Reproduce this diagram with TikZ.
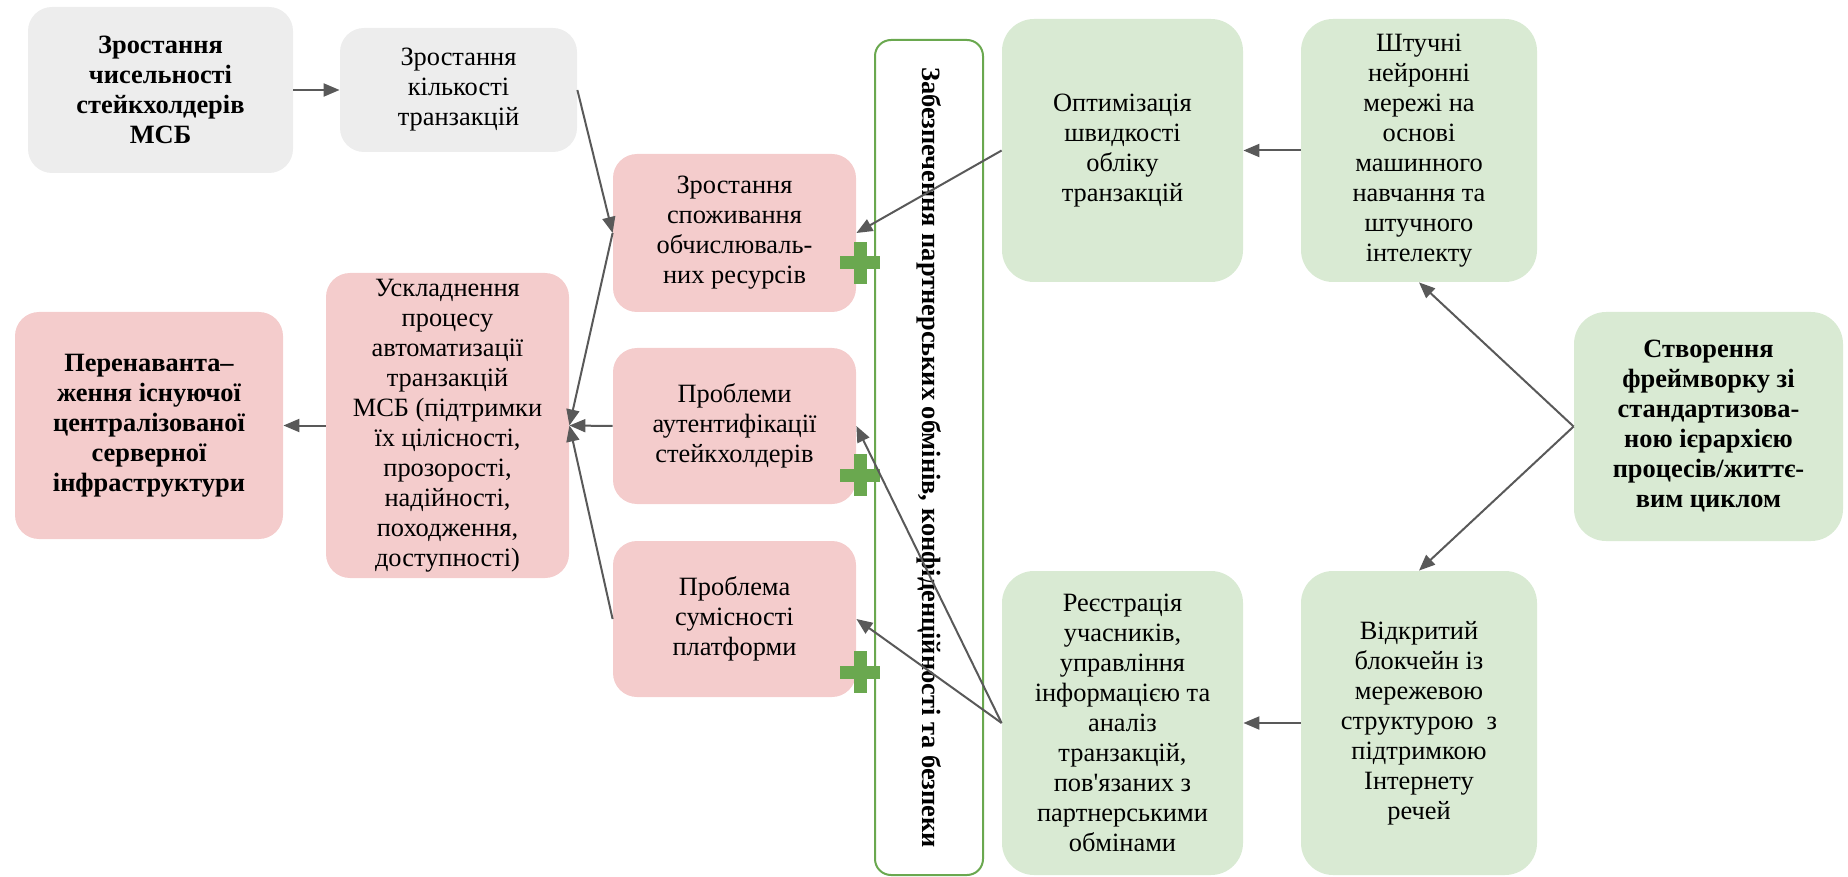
\documentclass[tikz,border=0pt]{standalone}
\usepackage{fontspec}
\setmainfont{Liberation Serif}
\usepackage{tikz}
\usetikzlibrary{arrows.meta}
\usetikzlibrary{positioning}

\definecolor{boxgray}{RGB}{237,237,237}
\definecolor{boxpink}{RGB}{244,204,204}
\definecolor{boxgreen}{RGB}{217,234,211}
\definecolor{linegreen}{RGB}{106,168,79}
\definecolor{arrowgray}{RGB}{89,89,89}

\begin{document}
\begin{tikzpicture}[x=0.5pt,y=-0.5pt,
    blok/.style={rectangle, rounded corners=12pt, inner sep=0pt, align=center,
        font=\fontsize{13.2pt}{15pt}\selectfont},
    sirij/.style={blok, fill=boxgray},
    rozhevij/.style={blok, fill=boxpink},
    zelenij/.style={blok, fill=boxgreen, rounded corners=16pt},
    zhirnij/.style={font=\fontsize{13.2pt}{15pt}\selectfont\bfseries},
    strilka/.style={draw=arrowgray, line width=1pt, -{Triangle[length=8pt,width=6.5pt]}}
    ]
    \useasboundingbox (0,0) rectangle (1848,877);

    \node[draw=linegreen, line width=1pt, rounded corners=8pt, inner sep=0pt,
        minimum width=54pt, minimum height=417.5pt] (ramka) at (929,457.5) {};
    \node[rotate=-90, zhirnij] (ramkatekst) at (ramka)
        {Забезпечення партнерських обмінів, конфіденційності та безпеки};

    \node[sirij, zhirnij, minimum width=132.5pt, minimum height=83pt] (stejk) at (160.5,90)
        {Зростання\\чисельності\\стейкхолдерів\\МСБ};
    \node[sirij, minimum width=118.5pt, minimum height=62pt] (tranz) at (458.5,90)
        {Зростання\\кількості\\транзакцій};

    \node[rozhevij, minimum width=121.5pt, minimum height=79pt] (resurs) at (734.5,233)
        {Зростання\\споживання\\обчислюваль-\\них ресурсів};
    \node[rozhevij, minimum width=121.5pt, minimum height=78pt] (autent) at (734.5,426)
        {Проблеми\\аутентифікації\\стейкхолдерів};
    \node[rozhevij, minimum width=121.5pt, minimum height=78pt] (sumisn) at (734.5,619)
        {Проблема\\сумісності\\платформи};
    \node[rozhevij, minimum width=121.5pt, minimum height=152.5pt] (uskl) at (447.5,425.5)
        {Ускладнення\\процесу\\автоматизації\\транзакцій\\МСБ (підтримки\\їх цілісності,\\прозорості,\\надійності,\\походження,\\доступності)};
    \node[rozhevij, zhirnij, minimum width=134pt, minimum height=113.5pt] (perenav) at (149,425.5)
        {Перенаванта–\\ження існуючої\\централізованої\\серверної\\інфраструктури};

    \node[zelenij, minimum width=120.5pt, minimum height=131.5pt] (optim) at (1122.5,150.5)
        {Оптимізація\\швидкості\\обліку\\транзакцій};
    \node[zelenij, minimum width=118pt, minimum height=131.5pt] (nejron) at (1419,150.5)
        {Штучні\\нейронні\\мережі на\\основі\\машинного\\навчання та\\штучного\\інтелекту};
    \node[zelenij, zhirnij, minimum width=134.5pt, minimum height=114.5pt] (frejm) at (1708.5,426.5)
        {Створення\\фреймворку зі\\стандартизова-\\ною ієрархією\\процесів/життє-\\вим циклом};
    \node[zelenij, minimum width=120.5pt, minimum height=152pt] (reestr) at (1122.5,723)
        {Реєстрація\\учасників,\\управління\\інформацією та\\аналіз\\транзакцій,\\пов\textquotesingle язаних з\\партнерськими\\обмінами};
    \node[zelenij, minimum width=118pt, minimum height=152pt] (blokch) at (1419,723)
        {Відкритий\\блокчейн із\\мережевою\\структурою~ з\\підтримкою\\Інтернету\\речей};

    \foreach \py in {263,475,672}{
    \fill[linegreen] (840,{\py-6.5}) rectangle (880,{\py+6.5});
    \fill[linegreen] (853.5,{\py-21}) rectangle (866.5,{\py+21});
    }

    \draw[strilka] (stejk) -- (tranz);
    \draw[strilka] (tranz.east) -- (resurs.west);
    \draw[strilka] (resurs.west) -- (uskl.east);
    \draw[strilka] (autent.west) -- (uskl.east);
    \draw[strilka] (sumisn.west) -- (uskl.east);
    \draw[strilka] (uskl) -- (perenav);
    \draw[strilka] (nejron) -- (optim);
    \draw[strilka] (optim.west) -- (resurs.east);
    \draw[strilka] (blokch) -- (reestr);
    \draw[strilka] (reestr.west) -- (autent.east);
    \draw[strilka] (reestr.west) -- (sumisn.east);
    \draw[strilka] (frejm.west) -- (nejron.south);
    \draw[strilka] (frejm.west) -- (blokch.north);
\end{tikzpicture}
\end{document}
